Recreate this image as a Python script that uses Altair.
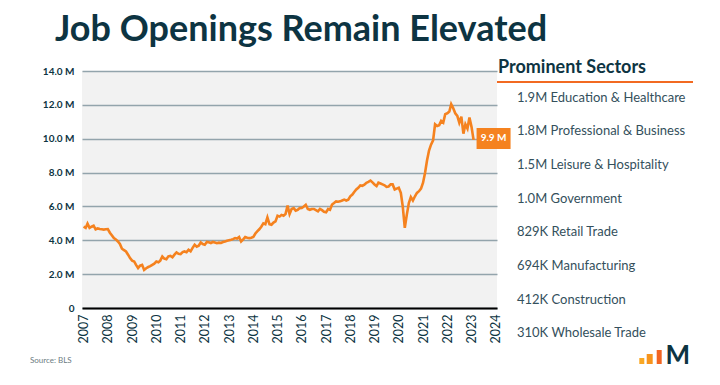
import altair as alt
import pandas as pd

# ---------------- data ----------------
start_month = "2007-01-01"
# Job openings, millions, monthly Jan 2007 .. Feb 2023
openings = [
    # 2007
    4.80, 4.73, 4.98, 4.73, 4.80, 4.86, 4.65, 4.70, 4.67, 4.65, 4.63, 4.65,
    # 2008
    4.66, 4.45, 4.30, 4.13, 4.05, 3.93, 3.78, 3.50, 3.42, 3.34, 3.15, 2.95,
    # 2009
    2.80, 2.75, 2.55, 2.36, 2.50, 2.55, 2.25, 2.35, 2.42, 2.47, 2.55, 2.62,
    # 2010
    2.75, 2.70, 2.80, 3.04, 2.92, 2.88, 3.05, 3.08, 3.00, 3.15, 3.28, 3.20,
    # 2011
    3.18, 3.30, 3.34, 3.30, 3.44, 3.35, 3.55, 3.74, 3.62, 3.68, 3.87, 3.78,
    # 2012
    3.74, 3.90, 3.88, 3.84, 3.90, 3.87, 3.83, 3.86, 3.84, 3.90, 3.93, 3.97,
    # 2013
    4.00, 4.03, 4.07, 4.13, 4.10, 4.19, 3.93, 4.05, 4.19, 4.15, 4.13, 4.15,
    # 2014
    4.20, 4.40, 4.53, 4.65, 4.80, 5.00, 4.95, 5.35, 4.95, 4.92, 5.05, 5.12,
    # 2015
    5.45, 5.40, 5.50, 5.45, 5.55, 6.05, 5.55, 5.85, 5.90, 5.75, 5.80, 5.90,
    # 2016
    5.91, 6.00, 6.10, 5.85, 5.80, 5.85, 5.85, 5.78, 5.71, 5.85, 5.78, 5.68,
    # 2017
    5.65, 5.85, 5.80, 6.11, 6.20, 6.30, 6.28, 6.30, 6.35, 6.40, 6.35, 6.40,
    # 2018
    6.60, 6.70, 6.85, 7.00, 7.10, 7.24, 7.22, 7.28, 7.40, 7.45, 7.53, 7.42,
    # 2019
    7.30, 7.20, 7.40, 7.35, 7.30, 7.25, 7.16, 7.18, 7.30, 7.30, 7.00, 7.05,
    # 2020
    7.10, 6.80, 6.00, 4.73, 5.50, 6.20, 6.55, 6.35, 6.60, 6.80, 6.90, 7.05,
    # 2021
    7.40, 8.00, 8.70, 9.30, 9.65, 9.90, 10.85, 10.75, 10.80, 11.05, 10.95, 11.45,
    # 2022
    11.50, 11.60, 12.04, 11.80, 11.50, 11.35, 10.95, 11.30, 10.30, 10.85, 10.60, 11.25,
    # 2023
    10.70, 9.93,
]

sectors = [
    "1.9M Education & Healthcare",
    "1.8M Professional & Business",
    "1.5M Leisure & Hospitality",
    "1.0M Government",
    "829K Retail Trade",
    "694K Manufacturing",
    "412K Construction",
    "310K Wholesale Trade",
]

year_ticks = list(range(2007, 2025))
y_ticks = [0, 2, 4, 6, 8, 10, 12, 14]

title_text = "Job Openings Remain Elevated"
panel_title = "Prominent Sectors"
source_text = "Source: BLS"

# ---------------- styles ----------------
ORANGE = "#f5821f"
DARK = "#0d3442"
TEXT = "#34505c"
FONT = "Lato"

W, H = 415, 237

dates = pd.date_range(start_month, periods=len(openings), freq="MS")
df = pd.DataFrame({"date": dates, "openings": openings})
last = df.tail(1).copy()
last["label"] = last["openings"].map(lambda v: f"{v:.1f} M")

xscale = alt.Scale(domain=[alt.DateTime(year=2006, month=12, date=8),
                           alt.DateTime(year=2024, month=1, date=20)])

X = alt.X("date:T", scale=xscale, title=None,
          axis=alt.Axis(values=[alt.DateTime(year=y, month=1, date=1) for y in year_ticks],
                        format="%Y", labelAngle=-90, labelAlign="right",
                        labelBaseline="middle", labelPadding=6, ticks=False,
                        domainColor="black", domainWidth=2, grid=False,
                        labelFontSize=12.5, labelColor=DARK, labelFont=FONT,
                        labelOverlap=False))
Y = alt.Y("openings:Q", scale=alt.Scale(domain=[0, 14]), title=None,
          axis=alt.Axis(values=y_ticks,
                        labelExpr="datum.value == 0 ? '0' : format(datum.value, '.1f') + ' M'",
                        grid=True, gridColor="#93a4ac", gridWidth=1.5, ticks=False,
                        domain=False, labelPadding=8, labelFontSize=10,
                        labelFontWeight="bold", labelColor=DARK, labelFont=FONT,
                        labelOverlap=False))

line = alt.Chart(df).mark_line(color=ORANGE, strokeWidth=2.6).encode(x=X, y=Y)

box = alt.Chart(last).mark_rect(color=ORANGE, xOffset=3, x2Offset=37,
                                yOffset=-12, y2Offset=9).encode(
    x=X, x2="date:T", y=Y, y2="openings:Q")

box_text = alt.Chart(last).mark_text(color="white", fontWeight="bold", fontSize=10,
                                     font=FONT, dx=20, dy=-1.5).encode(
    x=X, y=Y, text="label:N")

main = alt.layer(line, box, box_text)


def txt(s, x, y, **kw):
    return alt.Chart(pd.DataFrame({"t": [s]})).mark_text(font=FONT, **kw).encode(
        x=alt.value(x), y=alt.value(y), text="t:N")


title = txt(title_text, -27, -30, fontSize=36, fontWeight="bold", color=DARK,
            align="left", baseline="alphabetic")
panel = txt(panel_title, 416, 2, fontSize=18, fontWeight="bold", color=DARK,
            align="left", baseline="alphabetic")
underline = alt.Chart(pd.DataFrame({"a": [0]})).mark_rule(
    color="#f26a21", strokeWidth=2).encode(
    x=alt.value(415), x2=alt.value(611), y=alt.value(11))

sector_layer = alt.Chart(pd.DataFrame({"sector": sectors})).mark_text(
    font=FONT, fontSize=13, color=TEXT, align="left", baseline="middle").encode(
    x=alt.value(435),
    y=alt.Y("sector:N", sort=None, axis=None,
            scale=alt.Scale(type="point", range=[26.7, 262.3], padding=0)),
    text="sector:N")

source = txt(source_text, -52, 290, fontSize=8, color="#6b7b82",
             align="left", baseline="middle")

# logo (decoration)
logo_bars = alt.Chart(pd.DataFrame({
    "x": [557.3, 564.7, 574.7], "x2": [562.3, 570.7, 579.7],
    "y": [287, 283, 279], "c": ["#f9a825", "#f7941d", "#f26522"]})).mark_rect().encode(
    x=alt.X("x:Q", scale=None), x2="x2:Q",
    y=alt.Y("y:Q", scale=None), y2=alt.value(293),
    color=alt.Color("c:N", scale=None))
logo_m = txt("M", 583.5, 293, fontSize=26, fontWeight="bold", color=DARK,
             align="left", baseline="alphabetic")

chart = alt.layer(
    main, title, panel, underline, sector_layer, source, logo_bars, logo_m
).resolve_scale(y="independent", x="independent").properties(
    width=W, height=H,
    autosize=alt.AutoSizeParams(type="none"),
    padding={"left": 74, "top": 63, "right": 215, "bottom": 69},
    background="white",
).configure_view(stroke=None, fill="#f2f2f2")

chart.save("out.html", embed_options={"renderer": "svg", "actions": False})
